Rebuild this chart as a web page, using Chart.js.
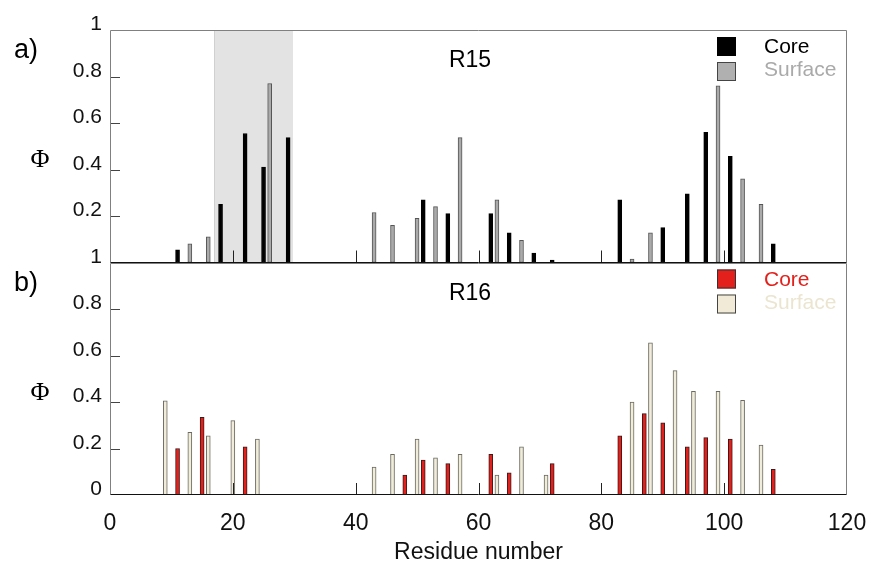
<!DOCTYPE html>
<html>
<head>
<meta charset="utf-8">
<script src="https://cdn.jsdelivr.net/npm/chart.js@4.4.1/dist/chart.umd.min.js"></script>
<style>
  html, body { margin: 0; padding: 0; background: #fff; }
</style>
</head>
<body>
<canvas id="phi" width="869" height="567"></canvas>
<script>
// R15 (panel a)
const r15CoreRes = [11, 18, 22, 25, 29, 51, 55, 62, 65, 69, 72, 83, 90, 94, 97, 101, 108];
const r15CoreVal = [0.055, 0.25, 0.555, 0.41, 0.537, 0.27, 0.21, 0.21, 0.128, 0.04, 0.01, 0.27, 0.15, 0.295, 0.56, 0.457, 0.08];
const r15SurfRes = [13, 16, 26, 43, 46, 50, 53, 57, 63, 67, 85, 88, 99, 103, 106];
const r15SurfVal = [0.08, 0.11, 0.77, 0.215, 0.16, 0.19, 0.24, 0.537, 0.27, 0.095, 0.015, 0.128, 0.76, 0.36, 0.25];

// R16 (panel b)
const r16CoreRes = [11, 15, 22, 48, 51, 55, 62, 65, 72, 83, 87, 90, 94, 97, 101, 108];
const r16CoreVal = [0.2, 0.334, 0.207, 0.086, 0.15, 0.135, 0.175, 0.095, 0.135, 0.255, 0.35, 0.31, 0.207, 0.247, 0.24, 0.11];
const r16SurfRes = [9, 13, 16, 20, 24, 43, 46, 50, 53, 57, 63, 67, 71, 85, 88, 92, 95, 99, 103, 106];
const r16SurfVal = [0.405, 0.27, 0.255, 0.32, 0.24, 0.12, 0.175, 0.24, 0.16, 0.175, 0.086, 0.207, 0.086, 0.4, 0.655, 0.535, 0.446, 0.446, 0.407, 0.215];

// grey band in panel a (residues)
const shadeRange = [17, 29.8];

const xTicks = [0, 20, 40, 60, 80, 100, 120];
const yTicks = [0, 0.2, 0.4, 0.6, 0.8, 1];

const SANS = "'Liberation Sans', Arial, Helvetica, sans-serif";

function pts(res, val) {
  return res.map((r, i) => ({ x: r, y: val[i] }));
}

function barSet(label, res, val, fill, edge, axis) {
  return {
    label: label,
    data: pts(res, val),
    yAxisID: axis,
    backgroundColor: fill,
    borderColor: edge,
    borderWidth: 1,
    borderSkipped: false,
    barThickness: 4,
    grouped: false
  };
}

const panelDeco = {
  id: 'panelDeco',
  beforeDatasetsDraw(chart) {
    const ctx = chart.ctx;
    const x = chart.scales.x, yT = chart.scales.yTop;
    const x0 = x.getPixelForValue(shadeRange[0]);
    const x1 = x.getPixelForValue(shadeRange[1]);
    ctx.save();
    ctx.fillStyle = '#e3e3e3';
    ctx.fillRect(x0, yT.top, x1 - x0, yT.bottom - yT.top);
    ctx.strokeStyle = '#d0d0d0';
    ctx.lineWidth = 1;
    ctx.beginPath();
    ctx.moveTo(Math.round(x0) + 0.5, yT.top);
    ctx.lineTo(Math.round(x0) + 0.5, yT.bottom);
    ctx.stroke();
    ctx.restore();
  },
  afterDatasetsDraw(chart) {
    const ctx = chart.ctx;
    const area = chart.chartArea;
    const x = chart.scales.x;
    ctx.save();
    ctx.lineWidth = 1;
    ['yTop', 'yBot'].forEach(id => {
      const y = chart.scales[id];
      // ticks pointing into the plot
      ctx.strokeStyle = '#444';
      y.ticks.forEach(t => {
        if (t.value <= 0 || t.value >= 1) return;
        const py = Math.round(y.getPixelForValue(t.value)) + 0.5;
        ctx.beginPath();
        ctx.moveTo(area.left, py);
        ctx.lineTo(area.left + 10, py);
        ctx.stroke();
      });
      ctx.strokeStyle = '#222';
      x.ticks.forEach(t => {
        if (t.value <= 0 || t.value >= 120) return;
        const px = Math.round(x.getPixelForValue(t.value)) + 0.5;
        ctx.beginPath();
        ctx.moveTo(px, y.bottom);
        ctx.lineTo(px, y.bottom - 12);
        ctx.stroke();
      });
      // frame
      const l = Math.round(area.left) + 0.5, r = Math.round(area.right) - 0.5;
      const t = Math.round(y.top) + 0.5, b = Math.round(y.bottom) - 0.5;
      ctx.strokeStyle = '#808080';
      ctx.beginPath();
      ctx.moveTo(l, b); ctx.lineTo(l, t); ctx.lineTo(r, t); ctx.lineTo(r, b);
      ctx.stroke();
      ctx.strokeStyle = '#111';
      ctx.beginPath();
      ctx.moveTo(l, b); ctx.lineTo(r, b);
      ctx.stroke();
    });
    ctx.restore();
  },
  afterDraw(chart) {
    const ctx = chart.ctx;
    const yT = chart.scales.yTop, yB = chart.scales.yBot;
    ctx.save();
    const panels = [
      { y: yT, tag: 'a)', name: 'R15', core: '#000000', coreEdge: '#000', surf: '#b0b0b0', surfEdge: '#444', coreText: '#000000', surfText: '#aaaaaa' },
      { y: yB, tag: 'b)', name: 'R16', core: '#e3201b', coreEdge: '#333', surf: '#f0ead6', surfEdge: '#444', coreText: '#e3201b', surfText: '#ebe5d0' }
    ];
    panels.forEach(p => {
      const top = p.y.top;
      ctx.textBaseline = 'alphabetic';
      ctx.textAlign = 'left';
      ctx.fillStyle = '#000';
      ctx.font = '27px ' + SANS;
      ctx.fillText(p.tag, 14, top + 28);
      ctx.font = '23px ' + SANS;
      ctx.textAlign = 'center';
      ctx.fillText(p.name, 470, top + 37);
      ctx.font = "26px 'Liberation Serif', 'Times New Roman', serif";
      ctx.fillText('\u03A6', 40, top + 137);
      // legend
      ctx.lineWidth = 1;
      ctx.fillStyle = p.core;
      ctx.fillRect(717, top + 7, 19, 19);
      ctx.strokeStyle = p.coreEdge;
      ctx.strokeRect(717.5, top + 7.5, 18, 18);
      ctx.fillStyle = p.surf;
      ctx.fillRect(717, top + 32, 19, 19);
      ctx.strokeStyle = p.surfEdge;
      ctx.strokeRect(717.5, top + 32.5, 18, 18);
      ctx.textAlign = 'left';
      ctx.font = '21px ' + SANS;
      ctx.fillStyle = p.coreText;
      ctx.fillText('Core', 764, top + 23);
      ctx.fillStyle = p.surfText;
      ctx.fillText('Surface', 764, top + 46);
    });
    ctx.restore();
  }
};

function yAxis(hideZero) {
  return {
    type: 'linear',
    position: 'left',
    stack: 'panels',
    stackWeight: 1,
    min: 0,
    max: 1,
    afterFit(s) { s.width = 110; s.paddingTop = 0; s.paddingBottom = 0; },
    afterBuildTicks(s) { s.ticks = yTicks.map(v => ({ value: v })); },
    grid: { display: false, drawTicks: false },
    border: { display: false },
    ticks: {
      autoSkip: false,
      padding: 8,
      labelOffset: -5.5,
      color: '#111',
      font: { family: SANS, size: 21 },
      callback: v => (hideZero && v === 0) ? '' : String(Math.round(v * 10) / 10)
    }
  };
}

new Chart(document.getElementById('phi'), {
  type: 'bar',
  data: {
    datasets: [
      barSet('R15 Core', r15CoreRes, r15CoreVal, '#000000', '#000000', 'yTop'),
      barSet('R15 Surface', r15SurfRes, r15SurfVal, '#aaaaaa', '#555555', 'yTop'),
      barSet('R16 Core', r16CoreRes, r16CoreVal, '#e3201b', '#3a1a1a', 'yBot'),
      barSet('R16 Surface', r16SurfRes, r16SurfVal, '#f1ecda', '#6a6a60', 'yBot')
    ]
  },
  options: {
    responsive: false,
    devicePixelRatio: 1,
    animation: false,
    layout: { padding: { top: 30, right: 22, bottom: 0, left: 0 } },
    plugins: {
      legend: { display: false },
      tooltip: { enabled: false }
    },
    scales: {
      x: {
        type: 'linear',
        min: 0,
        max: 120,
        offset: false,
        afterFit(s) { s.height = 72; s.paddingLeft = 0; s.paddingRight = 0; },
        afterBuildTicks(s) { s.ticks = xTicks.map(v => ({ value: v })); },
        grid: { display: false, drawTicks: false },
        border: { display: false },
        ticks: {
          autoSkip: false,
          maxRotation: 0,
          padding: 15,
          color: '#111',
          font: { family: SANS, size: 23 }
        },
        title: {
          display: true,
          text: 'Residue number',
          color: '#111',
          font: { family: SANS, size: 23 },
          padding: { top: 0, bottom: 1 }
        }
      },
      // stacked left axes: the one listed first ends up at the bottom
      yBot: yAxis(false),
      yTop: yAxis(true)
    }
  },
  plugins: [panelDeco]
});
</script>
</body>
</html>
